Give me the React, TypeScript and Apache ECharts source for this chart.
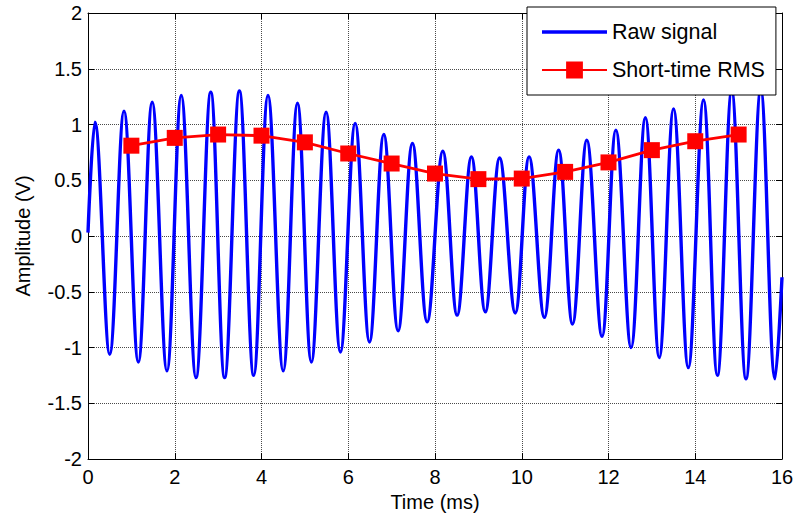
import React, { useEffect, useRef } from "react";
import * as echarts from "echarts";

const rawTimes = [
  0.0, 0.16, 0.5, 0.83, 1.16, 1.48, 1.82, 2.15, 2.49, 2.83, 3.15, 3.49, 3.82,
  4.15, 4.5, 4.83, 5.15, 5.49, 5.82, 6.16, 6.49, 6.82, 7.15, 7.48, 7.82, 8.18,
  8.51, 8.84, 9.16, 9.49, 9.85, 10.17, 10.52, 10.85, 11.17, 11.5, 11.85, 12.17,
  12.52, 12.85, 13.17, 13.5, 13.84, 14.19, 14.51, 14.84, 15.17, 15.51, 15.84, 16.0,
];
const rawValues = [
  0.03, 1.02, -1.06, 1.12, -1.13, 1.2, -1.21, 1.26, -1.27, 1.29, -1.27, 1.3, -1.25,
  1.26, -1.21, 1.19, -1.13, 1.11, -1.04, 1.01, -0.95, 0.91, -0.85, 0.83, -0.77, 0.76,
  -0.71, 0.71, -0.68, 0.7, -0.69, 0.71, -0.73, 0.77, -0.79, 0.86, -0.9, 0.95,
  -1.0, 1.06, -1.09, 1.14, -1.18, 1.22, -1.25, 1.3, -1.28, 1.31, -1.28, -0.37,
];

// Short-time RMS
const rmsTimes = [1, 2, 3, 4, 5, 6, 7, 8, 9, 10, 11, 12, 13, 14, 15];
const rmsValues = [
  0.81, 0.88, 0.91, 0.9, 0.84, 0.74, 0.65, 0.56, 0.51, 0.515, 0.575, 0.66, 0.77, 0.85, 0.91,
];

const seriesNames = ["Raw signal", "Short-time RMS"];
const xTitle = "Time (ms)";
const yTitle = "Amplitude (V)";

const FONT = "'Liberation Sans', Arial, Helvetica, sans-serif";

export default function App() {
  const ref = useRef<HTMLDivElement>(null);

  useEffect(() => {
    if (!ref.current) return;
    const chart = echarts.init(ref.current, undefined, { renderer: "svg" });

    const axisLine = { show: true, onZero: false, lineStyle: { color: "#000", width: 1 } };
    const tick = { show: true, inside: true, length: 6, lineStyle: { color: "#000", width: 1 } };
    const grid = { show: true, lineStyle: { color: "#4a4a4a", width: 1, type: [1, 1] as any } };
    const label = { color: "#000", fontSize: 20, fontFamily: FONT };

    const option: any = {
      animation: false,
      backgroundColor: "#fff",
      textStyle: { fontFamily: FONT },
      grid: { left: 88, right: 15, top: 13, bottom: 61, containLabel: false },
      legend: {
        orient: "vertical",
        left: 527,
        top: 7,
        padding: [14, 11, 14, 14],
        itemWidth: 65,
        itemHeight: 21,
        itemGap: 16,
        backgroundColor: "#fff",
        borderColor: "#000",
        borderWidth: 1,
        borderRadius: 0,
        textStyle: { color: "#000", fontSize: 21.5, fontFamily: FONT },
        data: [
          { name: seriesNames[0], icon: "path://M0,0L65,0L65,3.4L0,3.4Z" },
          { name: seriesNames[1] },
        ],
      },
      xAxis: [
        {
          type: "value",
          position: "bottom",
          min: 0,
          max: 16,
          interval: 2,
          axisLine,
          axisTick: tick,
          splitLine: grid,
          axisLabel: { ...label, margin: 8 },
          name: xTitle,
          nameLocation: "middle",
          nameGap: 33,
          nameTextStyle: { color: "#000", fontSize: 20, fontFamily: FONT },
        },
        {
          type: "value",
          position: "top",
          min: 0,
          max: 16,
          interval: 2,
          axisLine,
          axisTick: tick,
          splitLine: { show: false },
          axisLabel: { show: false },
        },
      ],
      yAxis: [
        {
          type: "value",
          position: "left",
          min: -2,
          max: 2,
          interval: 0.5,
          axisLine,
          axisTick: tick,
          splitLine: grid,
          axisLabel: { ...label, margin: 6 },
          name: yTitle,
          nameLocation: "middle",
          nameGap: 55,
          nameRotate: 90,
          nameTextStyle: { color: "#000", fontSize: 20, fontFamily: FONT },
        },
        {
          type: "value",
          position: "right",
          min: -2,
          max: 2,
          interval: 0.5,
          axisLine,
          axisTick: tick,
          splitLine: { show: false },
          axisLabel: { show: false },
        },
      ],
      series: [
        {
          name: seriesNames[0],
          type: "line",
          xAxisIndex: 0,
          yAxisIndex: 0,
          data: rawTimes.map((t, i) => [t, rawValues[i]]),
          showSymbol: false,
          symbol: "none",
          smooth: 0.37,
          lineStyle: { color: "#0000ff", width: 3.4 },
          itemStyle: { color: "#0000ff" },
          z: 2,
        },
        {
          name: seriesNames[1],
          type: "line",
          xAxisIndex: 0,
          yAxisIndex: 0,
          data: rmsTimes.map((t, i) => [t, rmsValues[i]]),
          symbol: "rect",
          symbolSize: 16,
          lineStyle: { color: "#ff0000", width: 2.8 },
          itemStyle: { color: "#ff0000" },
          z: 3,
        },
      ],
    };

    chart.setOption(option);
    return () => chart.dispose();
  }, []);

  return (
    <div
      ref={ref}
      style={{ position: "fixed", left: 0, top: 0, width: 797, height: 520, background: "#fff" }}
    />
  );
}
